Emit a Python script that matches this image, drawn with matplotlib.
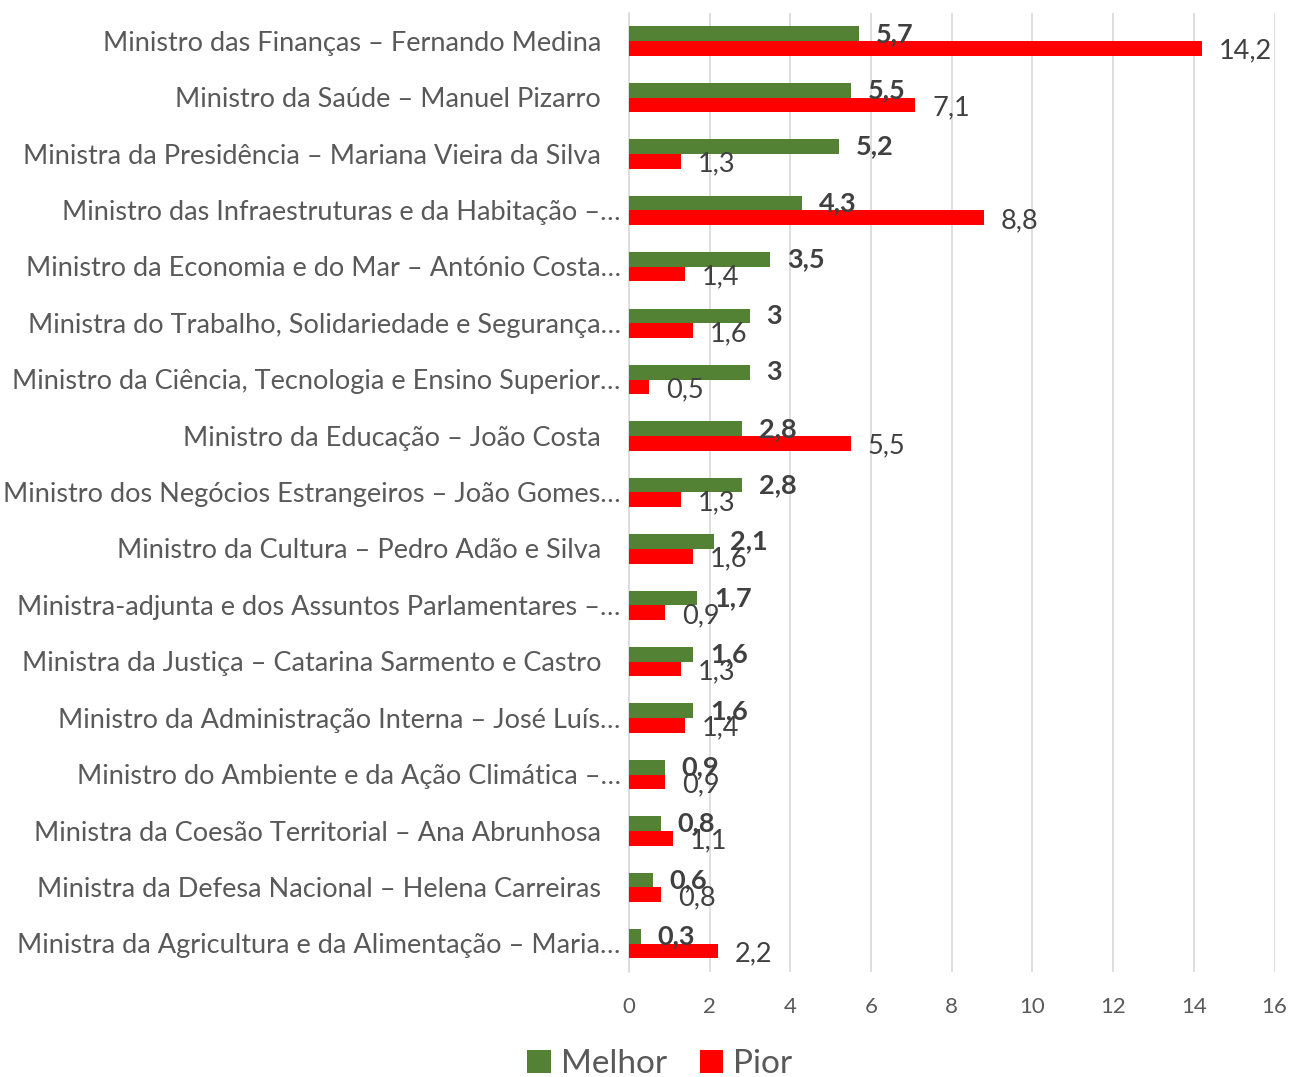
import matplotlib.pyplot as plt
import numpy as np

plt.rcParams["font.family"] = ["Lato", "DejaVu Sans"]

ministros = [
    "Ministro das Finanças – Fernando Medina",
    "Ministro da Saúde – Manuel Pizarro",
    "Ministra da Presidência – Mariana Vieira da Silva",
    "Ministro das Infraestruturas e da Habitação –…",
    "Ministro da Economia e do Mar – António Costa…",
    "Ministra do Trabalho, Solidariedade e Segurança…",
    "Ministro da Ciência, Tecnologia e Ensino Superior…",
    "Ministro da Educação – João Costa",
    "Ministro dos Negócios Estrangeiros – João Gomes…",
    "Ministro da Cultura – Pedro Adão e Silva",
    "Ministra-adjunta e dos Assuntos Parlamentares –…",
    "Ministra da Justiça – Catarina Sarmento e Castro",
    "Ministro da Administração Interna – José Luís…",
    "Ministro do Ambiente e da Ação Climática –…",
    "Ministra da Coesão Territorial – Ana Abrunhosa",
    "Ministra da Defesa Nacional – Helena Carreiras",
    "Ministra da Agricultura e da Alimentação – Maria…",
]
melhor = [5.7, 5.5, 5.2, 4.3, 3.5, 3, 3, 2.8, 2.8, 2.1, 1.7, 1.6, 1.6, 0.9, 0.8, 0.6, 0.3]
pior = [14.2, 7.1, 1.3, 8.8, 1.4, 1.6, 0.5, 5.5, 1.3, 1.6, 0.9, 1.3, 1.4, 0.9, 1.1, 0.8, 2.2]

VERDE = "#548235"
VERMELHO = "#ff0000"
TEXTO = "#404040"
CINZA = "#595959"


def fmt(v):
    return f"{v:g}".replace(".", ",")


fig = plt.figure(figsize=(12.94, 10.77), dpi=100)
ax = fig.add_axes([0.486, 0.0975, 0.499, 0.8905])

y = np.arange(len(ministros))
h = 0.26
ax.barh(y - h / 2, melhor, height=h, color=VERDE, label="Melhor", zorder=3)
ax.barh(y + h / 2, pior, height=h, color=VERMELHO, label="Pior", zorder=3)

for yi, v in zip(y, melhor):
    ax.annotate(fmt(v), (v, yi - h / 2), xytext=(12, 0), textcoords="offset points",
                va="center", ha="left", fontsize=19.5, fontweight="bold", color=TEXTO, zorder=4)
for yi, v in zip(y, pior):
    ax.annotate(fmt(v), (v, yi + h / 2), xytext=(12, -2), textcoords="offset points",
                va="center", ha="left", fontsize=19.5, color=TEXTO, zorder=4)

# nomes à esquerda; os truncados ficam um pouco mais à direita (como no Excel)
for yi, nome in zip(y, ministros):
    dx = -6 if nome.endswith("…") else -20
    ax.annotate(nome, (0, yi), xycoords=("axes fraction", "data"), xytext=(dx, -1.5),
                textcoords="offset points", ha="right", va="center",
                fontsize=19.5, color=CINZA)

ax.set_xlim(0, 16)
ax.set_ylim(len(ministros) - 0.5, -0.5)
ax.set_xticks(range(0, 17, 2))
ax.set_yticks([])
ax.grid(axis="x", color="#d9d9d9", linewidth=1.2, zorder=0)
for s in ["top", "right", "bottom"]:
    ax.spines[s].set_visible(False)
ax.spines["left"].set_color("#d9d9d9")
ax.spines["left"].set_linewidth(1.2)
ax.tick_params(axis="x", length=0, pad=18, labelsize=16, labelcolor=CINZA)

fig.legend(loc="center", bbox_to_anchor=(0.51, 0.012), ncol=2, frameon=False,
           fontsize=24, labelcolor=CINZA, handlelength=0.7, handleheight=0.7,
           handletextpad=0.3, columnspacing=1.0)

fig.savefig("out.png", dpi=100)
